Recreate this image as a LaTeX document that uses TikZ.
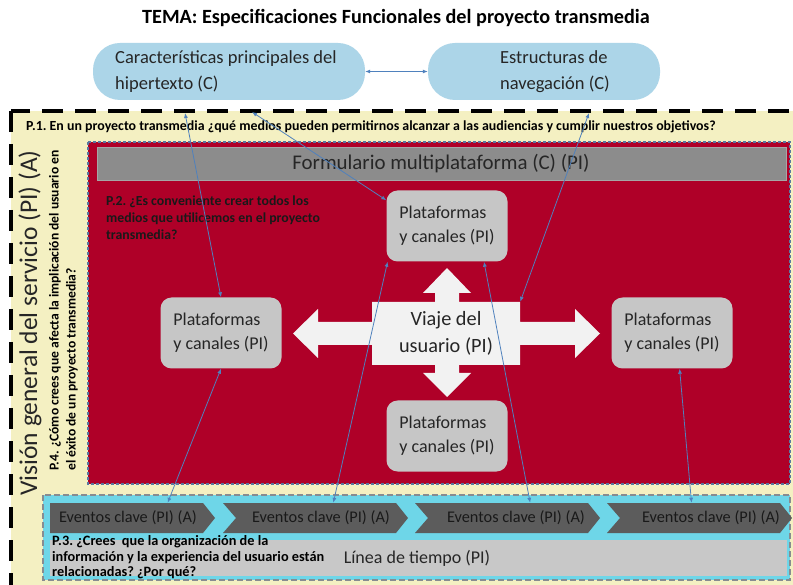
\documentclass[tikz,border=0pt]{standalone}
\usepackage{fontspec}
\setmainfont{Carlito}
\usetikzlibrary{arrows.meta}
\frenchspacing
\definecolor{ovalblue}{RGB}{172,213,232}
\definecolor{paleyellow}{RGB}{244,240,194}
\definecolor{deepred}{RGB}{175,0,40}
\definecolor{redborder}{RGB}{90,120,160}
\definecolor{formgrey}{RGB}{140,140,140}
\definecolor{platgrey}{RGB}{198,198,198}
\definecolor{crosswhite}{RGB}{242,242,242}
\definecolor{bandcyan}{RGB}{110,214,232}
\definecolor{bandborder}{RGB}{135,140,145}
\definecolor{chevgrey}{RGB}{92,92,92}
\definecolor{lineagrey}{RGB}{200,200,200}
\definecolor{connblue}{RGB}{79,129,189}
\begin{document}
\begin{tikzpicture}[x=1pt,y=-1pt,
  ovalbox/.style={fill=ovalblue, rounded corners=27pt, minimum height=57pt, inner sep=0pt},
  platbox/.style={fill=platgrey, rounded corners=11pt, minimum width=121pt, minimum height=71pt, align=left, inner sep=0pt, font=\fontsize{18}{24}\selectfont, text=black!85},
  chev/.style={fill=chevgrey},
  evtext/.style={minimum width=150pt, minimum height=30pt, inner sep=0pt, font=\fontsize{16.3}{18}\selectfont, text=black!90},
  qtext/.style={font=\fontsize{13.8}{17}\selectfont\bfseries, align=left, inner sep=0pt, text=black},
  conn/.style={draw=connblue, line width=0.8pt, {Latex[length=5pt,width=4pt]}-{Latex[length=5pt,width=4pt]}}
]
\useasboundingbox (0,0) rectangle (793,585);
\fill[white] (0,0) rectangle (793,585);

% title
\node[font=\fontsize{20.2}{22}\selectfont\bfseries] (title) at (396,18) {TEMA: Especificaciones Funcionales del proyecto transmedia};

% ovals
\node[ovalbox, minimum width=272pt] (ov1) at (229,71.5) {};
\node[align=left, font=\fontsize{18.5}{26}\selectfont, text=black!85, anchor=west, inner sep=0pt] (ov1t) at (115,71.5) {Características principales del\\hipertexto (C)};
\node[ovalbox, minimum width=232pt] (ov2) at (544,71.5) {};
\node[align=left, font=\fontsize{18.5}{26}\selectfont, text=black!85, inner sep=0pt] (ov2t) at (555,71.5) {Estructuras de\\navegación (C)};
\draw[conn] (ov1.east) -- (ov2.west);

% outer dashed box
\draw[fill=paleyellow, line width=3.5pt, dash pattern=on 21pt off 12pt] (11,111) rectangle (815,620);
\node[qtext, font=\fontsize{13.9}{16}\selectfont\bfseries, anchor=west] (p1) at (26,127) {P.1. En un proyecto transmedia ¿qué medios pueden permitirnos alcanzar a las audiencias y cumplir nuestros objetivos?};

% vertical texts
\node[rotate=90, font=\fontsize{25.5}{28}\selectfont, text=black!85] (vis) at (30,323) {Visión general del servicio (PI) (A)};
\node[qtext, font=\fontsize{13.6}{17}\selectfont\bfseries, rotate=90, anchor=north west] (p4) at (49,471) {P.4. ¿Cómo crees que afecta la implicación del usuario en\\el éxito de un proyecto transmedia?};

% red box
\draw[fill=deepred, draw=redborder, line width=1.2pt, dash pattern=on 3pt off 2pt] (88,142) rectangle (790,484);
\node[fill=formgrey, draw=gray!70, minimum width=689pt, minimum height=33pt, inner sep=0pt, anchor=north west] (form) at (97,147) {};
\node[font=\fontsize{20.9}{22}\selectfont, text=black!85] (formt) at (441,163.5) {Formulario multiplataforma (C) (PI)};
\node[qtext, anchor=north west, text=black!90] (p2) at (106,196) {P.2. ¿Es conveniente crear todos los\\medios que utilicemos en el proyecto\\transmedia?};

% platform boxes
\node[platbox] (pt) at (447,226) {Plataformas\\y canales (PI)};
\node[platbox] (pl) at (221,333) {Plataformas\\y canales (PI)};
\node[platbox] (pr) at (672,333) {Plataformas\\y canales (PI)};
\node[platbox] (pb) at (447,436) {Plataformas\\y canales (PI)};

% cross
\fill[crosswhite] (372,302) -- (435,302) -- (435,293) -- (423,293) -- (447,268) -- (471,293) -- (459,293) -- (459,302) -- (520,302) -- (520,322) -- (575,322) -- (575,309) -- (600,333.5) -- (575,358) -- (575,345) -- (520,345) -- (520,365) -- (459,365) -- (459,373) -- (471,373) -- (447,397) -- (423,373) -- (435,373) -- (435,365) -- (372,365) -- (372,345) -- (318,345) -- (318,358) -- (293,333.5) -- (318,309) -- (318,322) -- (372,322) -- cycle;
\node[minimum width=148pt, minimum height=63pt, inner sep=0pt, align=center, font=\fontsize{20.3}{27}\selectfont, text=black!85] (viaje) at (446,333.5) {Viaje del\\usuario (PI)};

% bottom band
\draw[fill=bandcyan, draw=bandborder, line width=1.5pt, dash pattern=on 6pt off 3pt] (43,495) rectangle (790,580);
\fill[chev] (50,503) -- (203,503) -- (215,518) -- (203,533) -- (50,533) -- cycle;
\fill[chev] (223,503) -- (396,503) -- (408,518) -- (396,533) -- (223,533) -- (236,518) -- cycle;
\fill[chev] (415,503) -- (588,503) -- (600,518) -- (588,533) -- (415,533) -- (428,518) -- cycle;
\fill[chev] (607,503) -- (780,503) -- (792,518) -- (780,533) -- (607,533) -- (620,518) -- cycle;
\node[evtext] (ev1) at (128,518) {Eventos clave (PI) (A)};
\node[evtext] (ev2) at (321,518) {Eventos clave (PI) (A)};
\node[evtext] (ev3) at (516,518) {Eventos clave (PI) (A)};
\node[evtext] (ev4) at (711,518) {Eventos clave (PI) (A)};
\node[fill=lineagrey, minimum width=737pt, minimum height=36pt, inner sep=0pt, anchor=north west] (linea) at (50,540) {};
\node[font=\fontsize{18}{20}\selectfont, text=black!85] (lineat) at (417,558) {Línea de tiempo (PI)};
\node[qtext, font=\fontsize{14.3}{15.5}\selectfont\bfseries, anchor=north west] (p3) at (52,535.5) {P.3. ¿Crees\ \ que la organización de la\\información y la experiencia del usuario están\\relacionadas? ¿Por qué?};

% connectors
\coordinate (tA) at (185,113);
\coordinate (tB) at (252,112);
\coordinate (tC) at (589,113);
\draw[conn] (tA) -- (pl.north);
\draw[conn] (tB) -- (pt.157);
\draw[conn] (tC) -- (viaje.north east);
\draw[conn] (pl.south) -- (ev1.21.5);
\draw[conn] (pt.211) -- (ev2.51);
\draw[conn] (pt.316) -- (ev3.47);
\draw[conn] (pr.282) -- (ev4.142);
\end{tikzpicture}
\end{document}
